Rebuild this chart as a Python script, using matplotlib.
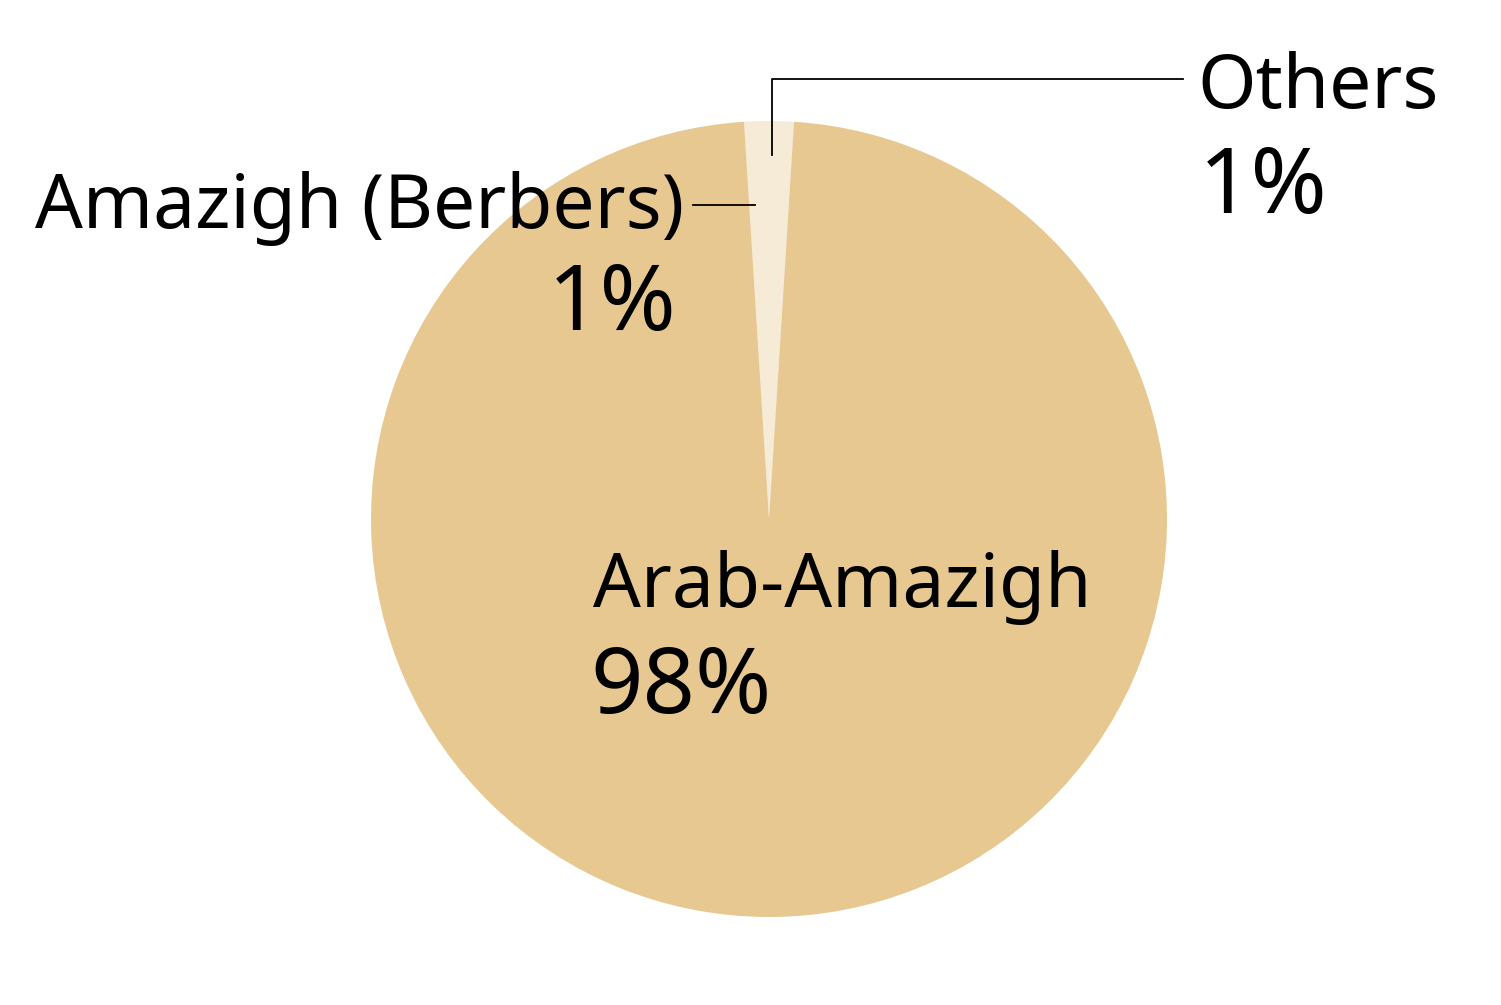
import matplotlib
matplotlib.use("Agg")
import matplotlib.pyplot as plt
import numpy as np

# Ethnic composition shares (percent), drawn counter-clockwise from the top
labels = ["Others", "Amazigh (Berbers)", "Arab-Amazigh"]
shares = [1, 1, 98]
colors = ["#F6EBD6", "#F6EBD6", "#E8C891"]

plt.rcParams['font.family'] = ['Noto Sans', 'DejaVu Sans']

fig = plt.figure(figsize=(15.01, 10.05), dpi=100)
W, H = 1501, 1005
cx, cy, R = 769, 519, 398
ax = fig.add_axes([(cx - R) / W, (H - cy - R) / H, 2 * R / W, 2 * R / H])

start = 90 - 360 * shares[0] / sum(shares)
wedges, _ = ax.pie(shares, colors=colors, startangle=start, radius=1,
                   wedgeprops=dict(linewidth=0))
ax.set_xlim(-1, 1)
ax.set_ylim(-1, 1)
ax.set_aspect('equal')
ax.axis('off')


def px(x, y):
    # figure pixel (top-left origin) -> data coords of the pie axes
    return (x - cx) / R, (cy - y) / R


def anchor(w, r, frac=0.5):
    t = np.deg2rad(w.theta1 + frac * (w.theta2 - w.theta1))
    return r * np.cos(t), r * np.sin(t)


fs_name = 54
fs_pct = 66
lw = 1.3

# Others: bent leader going up then right
ox, oy = anchor(wedges[0], 0.915, frac=0.85)
_, ly = px(0, 79)
lx2, _ = px(1183, 0)
ax.plot([ox, ox, lx2], [oy, ly, ly], color='black', lw=lw, clip_on=False)

# Amazigh (Berbers): horizontal leader to the left
bx, by = anchor(wedges[1], 0.79, frac=0.7)
lx1, _ = px(693, 0)
ax.plot([lx1, bx], [by, by], color='black', lw=lw, clip_on=False)


def label(x, y, s, size, ha):
    fig.text(x / W, 1 - y / H, s, fontsize=size, ha=ha, va='baseline')


label(1197, 108, labels[0], fs_name, 'left')
label(1199, 213, f"{shares[0]}%", fs_pct, 'left')
label(684, 228, labels[1], fs_name, 'right')
label(677, 330, f"{shares[1]}%", fs_pct, 'right')
label(593, 607, labels[2], fs_name, 'left')
label(590, 713, f"{shares[2]}%", fs_pct, 'left')

fig.savefig("out.png", dpi=100)
